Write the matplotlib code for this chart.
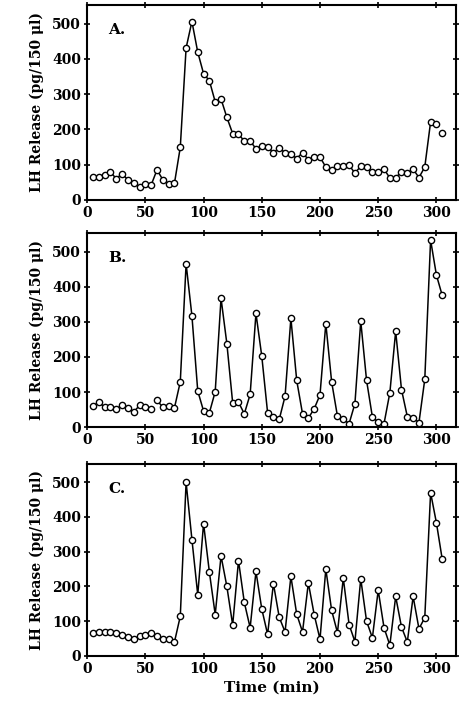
# LH release profiles, three panels (A, B, C)

import matplotlib.pyplot as plt
import numpy as np

# --- Data ---
time = np.arange(5, 310, 5)  # min, 5 .. 305

lh_a = [66, 66, 71, 79, 60, 74, 57, 49, 36, 45, 42, 85, 57, 46, 47,
        149, 431, 506, 419, 358, 338, 278, 286, 234, 188, 186, 167, 167,
        145, 152, 151, 133, 148, 133, 131, 117, 134, 114, 121, 121, 93,
        84, 95, 95, 98, 76, 95, 92, 78, 79, 87, 62, 63, 79, 76, 87, 63,
        93, 221, 215, 189]

lh_b = [60, 71, 57, 57, 52, 62, 55, 43, 62, 57, 52, 76, 57, 60, 55,
        129, 465, 317, 103, 46, 41, 101, 367, 238, 69, 71, 38, 93, 324,
        202, 41, 29, 22, 88, 310, 133, 38, 26, 52, 92, 295, 129, 31, 22,
        10, 67, 302, 133, 29, 14, 10, 98, 273, 107, 30, 27, 13, 136, 533,
        433, 375]

lh_c = [67, 69, 70, 69, 67, 59, 55, 48, 57, 61, 67, 57, 50, 50, 40,
        114, 500, 335, 176, 381, 241, 119, 288, 200, 89, 274, 154, 81,
        243, 135, 62, 208, 111, 69, 229, 120, 69, 210, 119, 48, 250, 131,
        67, 224, 90, 41, 222, 100, 52, 189, 81, 31, 171, 83, 40, 171, 78,
        110, 470, 383, 278]

series = [lh_a, lh_b, lh_c]
labels = ['A.', 'B.', 'C.']

# --- Figure ---
fig = plt.figure(figsize=(4.66, 7.06), dpi=100)
boxes = [(0.717, 0.993), (0.395, 0.670), (0.071, 0.343)]
font = 'DejaVu Serif'

for (bot, top), y, lab in zip(boxes, series, labels):
    ax = fig.add_axes([0.187, bot, 0.979 - 0.187, top - bot])
    y = np.array(y, dtype=float)
    if lab == 'A.':
        # last point is drawn without a connecting line
        ax.plot(time[:-1], y[:-1], '-o', color='black', lw=1.1, ms=4.5,
                mfc='white', mec='black', mew=1.0)
        ax.plot(time[-1:], y[-1:], 'o', ms=4.5, mfc='white', mec='black', mew=1.0)
    elif lab == 'B.':
        # gap between 55 and 60 min
        ax.plot(time[:11], y[:11], '-o', color='black', lw=1.1, ms=4.5,
                mfc='white', mec='black', mew=1.0)
        ax.plot(time[11:], y[11:], '-o', color='black', lw=1.1, ms=4.5,
                mfc='white', mec='black', mew=1.0)
    else:
        ax.plot(time, y, '-o', color='black', lw=1.1, ms=4.5,
                mfc='white', mec='black', mew=1.0)

    ax.set_xlim(0, 317)
    ax.set_ylim(0, 553)
    ax.set_xticks(range(0, 301, 50))
    ax.set_yticks(range(0, 501, 100))
    ax.tick_params(direction='inout', length=5, width=1.2, top=True, right=True,
                   labelsize=10, pad=2)
    for t in ax.get_xticklabels() + ax.get_yticklabels():
        t.set_fontweight('bold')
        t.set_family(font)
    for s in ax.spines.values():
        s.set_linewidth(1.5)
    ax.text(18, 470, lab, fontsize=11, fontweight='bold', family=font)
    ax.set_ylabel('LH Release (pg/150 μl)', fontsize=10, fontweight='bold',
                  family=font, labelpad=6)

ax.set_xlabel('Time (min)', fontsize=11, fontweight='bold', family=font, labelpad=3)

plt.savefig('out.png', dpi=100)
plt.close()
